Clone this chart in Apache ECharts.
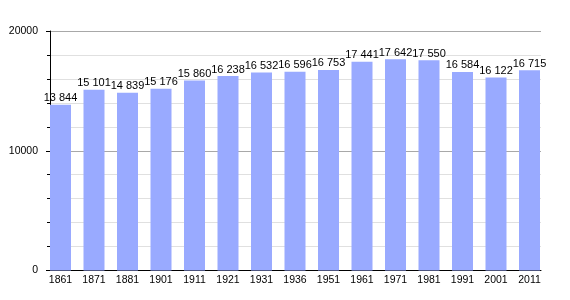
<!DOCTYPE html>
<html><head><meta charset="utf-8">
<script src="https://cdn.jsdelivr.net/npm/echarts@6/dist/echarts.min.js"></script>
<style>html,body{margin:0;padding:0;background:#fff}#c{width:570px;height:300px}</style>
</head><body><div id="c"></div>
<script>
var years = ['1861','1871','1881','1901','1911','1921','1931','1936','1951','1961','1971','1981','1991','2001','2011'];
var population = [13844,15101,14839,15176,15860,16238,16532,16596,16753,17441,17642,17550,16584,16122,16715];
var yTicks = [0,10000,20000];

var chart = echarts.init(document.getElementById('c'), null, {renderer:'canvas'});
var font = 'Liberation Sans, Arial, sans-serif';
function fmt(v){ return String(v).replace(/\B(?=(\d{3})+(?!\d))/g,' '); }
chart.setOption({
  animation:false,
  backgroundColor:'#fff',
  grid:[
    {left:50, right:29, top:31, bottom:29.5},
    {left:43.75, width:502.5, top:31, bottom:29.5}
  ],
  xAxis:[
    {gridIndex:0, type:'value', min:0, max:1, axisLine:{show:true,lineStyle:{color:'#000',width:1}}, axisTick:{show:false}, axisLabel:{show:false}, splitLine:{show:false}},
    {gridIndex:1, type:'category', data:years, axisLine:{show:false}, axisTick:{show:false},
     axisLabel:{color:'#000', fontSize:10.5, fontFamily:font, margin:4}}
  ],
  yAxis:[
    {gridIndex:0, type:'value', min:yTicks[0], max:yTicks[2], interval:10000,
     axisLine:{show:true,lineStyle:{color:'#000',width:1}},
     axisTick:{show:true,length:4,lineStyle:{color:'#000'}},
     minorTick:{show:true,splitNumber:5,length:3,lineStyle:{color:'#000'}},
     splitLine:{show:true,lineStyle:{color:'#a8a8a8',width:1}},
     minorSplitLine:{show:true,lineStyle:{color:'#e0e0e0',width:1}},
     axisLabel:{color:'#000', fontSize:10.5, fontFamily:font, margin:12, formatter:function(v){return String(v);}}},
    {gridIndex:1, type:'value', min:yTicks[0], max:yTicks[2], show:false, splitLine:{show:false}}
  ],
  series:[{
    type:'bar', xAxisIndex:1, yAxisIndex:1, data:population, barWidth:21,
    itemStyle:{color:'#99aaff'},
    label:{show:true, position:'top', distance:1, color:'#000', fontSize:11, fontFamily:font, formatter:function(p){return fmt(p.value);}}
  }]
});
</script></body></html>
